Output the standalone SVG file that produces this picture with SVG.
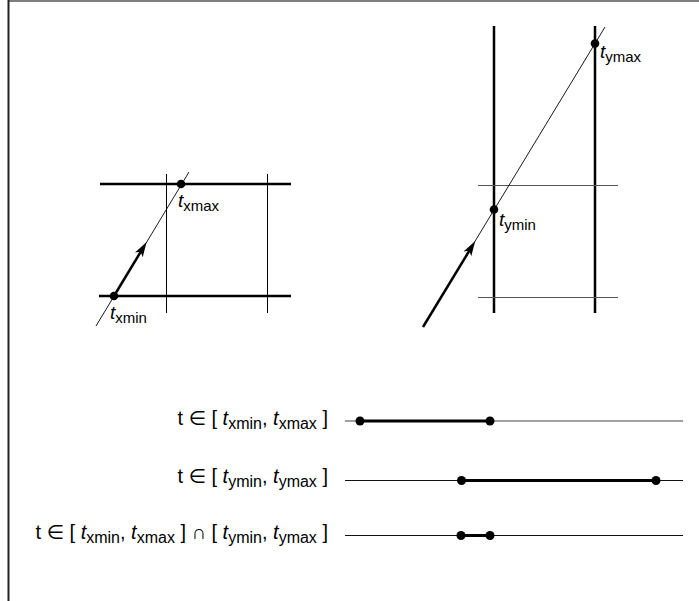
<svg xmlns="http://www.w3.org/2000/svg" width="699" height="601" viewBox="0 0 699 601">
<style>
text{font-family:"Liberation Sans",Arial,"DejaVu Sans",sans-serif;font-size:19px;fill:#000}
.row{font-size:20px}
.it{font-style:italic}
.sub{font-size:15px}
.row .sub{font-size:16px}
.thick{stroke:#000;stroke-width:2.5;fill:none}
.thin{stroke:#000;stroke-width:1;fill:none}
.grey{stroke:#555;stroke-width:1;fill:none}
.dot{fill:#000}
.ray{stroke:#000;stroke-width:0.9;fill:none}
.arr{stroke:#000;stroke-width:2.5;fill:none;marker-end:url(#ah)}
.axis1{stroke:#808080;stroke-width:1.5}
.axis{stroke:#111;stroke-width:1}
.seg{stroke:#000;stroke-width:3}
</style>
<defs>
<marker id="ah" markerUnits="userSpaceOnUse" markerWidth="24" markerHeight="24" orient="auto" refX="0" refY="0" viewBox="-12 -12 24 24" overflow="visible">
<path d="M7,0 L-8,-4.5 L-4.5,0 L-8,4.5 Z" fill="#000"/>
</marker>
</defs>
<rect width="699" height="601" fill="#fff"/>
<g id="frame">
<line x1="8" y1="1" x2="699" y2="1" stroke="#555" stroke-width="1.5"/>
<line x1="8.5" y1="0" x2="8.5" y2="601" stroke="#222" stroke-width="2"/>
</g>
<g id="slab-x">
<line class="thick" x1="100" y1="184" x2="291" y2="184"/>
<line class="thick" x1="99" y1="296" x2="291" y2="296"/>
<line class="thin" x1="166.5" y1="174" x2="166.5" y2="313"/>
<line class="thin" x1="267.5" y1="174" x2="267.5" y2="313"/>
</g>
<g id="slab-y">
<line class="thick" x1="494" y1="26" x2="494" y2="313"/>
<line class="thick" x1="595" y1="26" x2="595" y2="313"/>
<line class="grey" x1="478" y1="185.5" x2="618" y2="185.5"/>
<line class="grey" x1="478" y1="297.5" x2="618" y2="297.5"/>
</g>
<g id="connectors">
<line class="ray" x1="96" y1="326" x2="189" y2="172"/>
<line class="arr" x1="114" y1="296" x2="143" y2="248"/>
<line class="ray" x1="423" y1="327" x2="605" y2="27"/>
<line class="arr" x1="423" y1="327" x2="471.6" y2="247"/>
</g>
<g id="p-txmin">
<circle class="dot" cx="114" cy="296" r="4.3"/>
<text x="110" y="319"><tspan class="it">t</tspan><tspan class="sub" dy="4">xmin</tspan></text>
</g>
<g id="p-txmax">
<circle class="dot" cx="181" cy="184" r="4.3"/>
<text x="178" y="207"><tspan class="it">t</tspan><tspan class="sub" dy="4">xmax</tspan></text>
</g>
<g id="p-tymin">
<circle class="dot" cx="494" cy="209.5" r="4.3"/>
<text x="499" y="226"><tspan class="it">t</tspan><tspan class="sub" dy="4">ymin</tspan></text>
</g>
<g id="p-tymax">
<circle class="dot" cx="595" cy="43.5" r="4.3"/>
<text x="600" y="58"><tspan class="it">t</tspan><tspan class="sub" dy="4">ymax</tspan></text>
</g>
<g id="row-x">
<text class="row" x="328" y="425" text-anchor="end">t ∈ [ <tspan class="it">t</tspan><tspan class="sub" dy="4">xmin</tspan><tspan dy="-4">, </tspan><tspan class="it">t</tspan><tspan class="sub" dy="4">xmax</tspan><tspan dy="-4"> ]</tspan></text>
<line class="axis1" x1="345" y1="421" x2="683" y2="421"/>
<line class="seg" x1="360" y1="421" x2="490" y2="421"/>
<circle class="dot" cx="360" cy="421" r="4.5"/>
<circle class="dot" cx="490" cy="421" r="4.5"/>
</g>
<g id="row-y">
<text class="row" x="328" y="483" text-anchor="end">t ∈ [ <tspan class="it">t</tspan><tspan class="sub" dy="4">ymin</tspan><tspan dy="-4">, </tspan><tspan class="it">t</tspan><tspan class="sub" dy="4">ymax</tspan><tspan dy="-4"> ]</tspan></text>
<line class="axis" x1="345" y1="480.5" x2="683" y2="480.5"/>
<line class="seg" x1="461.5" y1="480.5" x2="656" y2="480.5"/>
<circle class="dot" cx="461.5" cy="480.5" r="4.5"/>
<circle class="dot" cx="656" cy="480.5" r="4.5"/>
</g>
<g id="row-xy">
<text class="row" x="328" y="539" text-anchor="end">t ∈ [ <tspan class="it">t</tspan><tspan class="sub" dy="4">xmin</tspan><tspan dy="-4">, </tspan><tspan class="it">t</tspan><tspan class="sub" dy="4">xmax</tspan><tspan dy="-4"> ] ∩ [ </tspan><tspan class="it">t</tspan><tspan class="sub" dy="4">ymin</tspan><tspan dy="-4">, </tspan><tspan class="it">t</tspan><tspan class="sub" dy="4">ymax</tspan><tspan dy="-4"> ]</tspan></text>
<line class="axis" x1="345" y1="535.5" x2="683" y2="535.5"/>
<line class="seg" x1="461" y1="535.5" x2="490" y2="535.5"/>
<circle class="dot" cx="461" cy="535.5" r="4.5"/>
<circle class="dot" cx="490" cy="535.5" r="4.5"/>
</g>
</svg>
